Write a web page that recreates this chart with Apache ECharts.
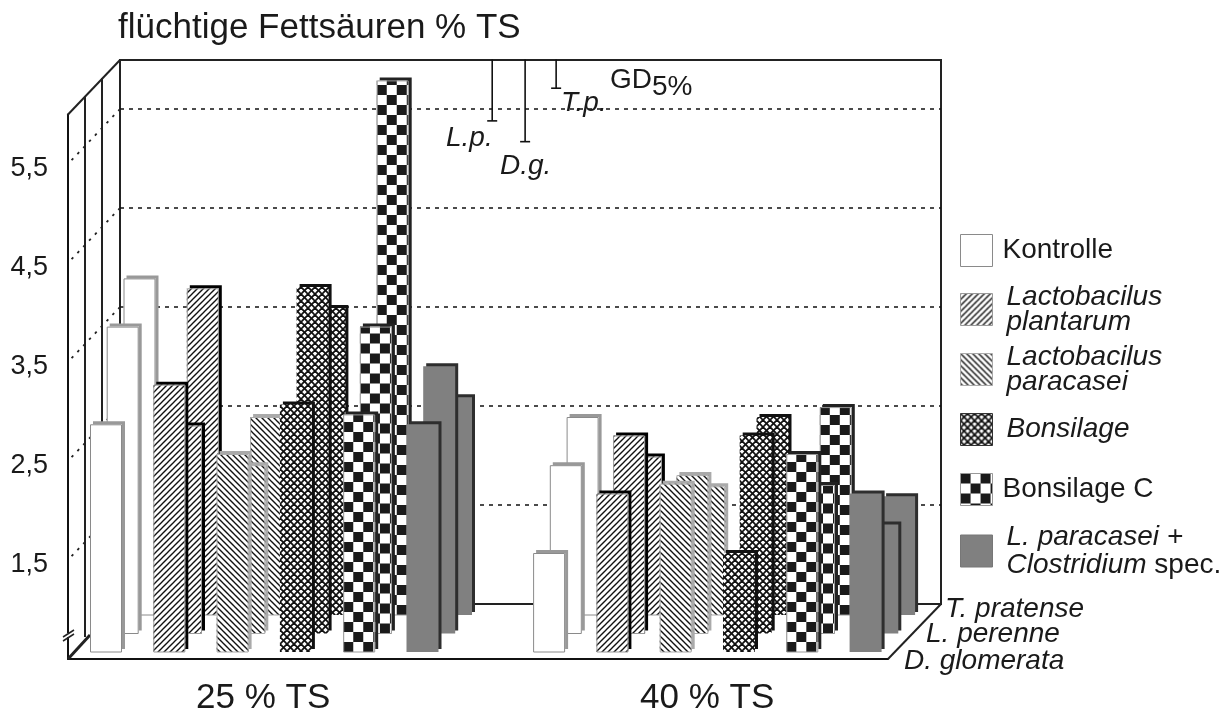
<!DOCTYPE html>
<html><head><meta charset="utf-8">
<style>html,body{margin:0;padding:0;background:#fff}#c{width:1230px;height:713px}</style>
<script src="https://cdn.jsdelivr.net/npm/echarts@6/dist/echarts.min.js"></script>
</head><body><div id="c"></div>
<script>
// ---- data -------------------------------------------------------------
const slots = ['25-K','25-Lp','25-Lc','25-B','25-BC','25-LC','','40-K','40-Lp','40-Lc','40-B','40-BC','40-LC'];
const treatments = ['Kontrolle','Lactobacilus plantarum','Lactobacilus paracasei','Bonsilage','Bonsilage C','L. paracasei + Clostridium spec.'];
// six treatments at 25 % TS, then six at 40 % TS
const dGlomerata = [2.8,3.2,2.5,3.0,2.9,2.8, 1.5,2.1,2.2,1.5,2.5,2.1];
const lPerenne   = [3.6,2.6,2.2,4.0,3.6,3.2, 2.2,2.5,2.1,2.5,2.0,1.6];
const tPratense  = [3.9,3.8,2.5,3.6,5.9,2.7, 2.5,2.1,1.8,2.5,2.6,1.7];
const yTicks = [1.5,2.5,3.5,4.5,5.5];
const gdValues = [0.62,0.83,0.29];
const gdNames = ['L.p.','D.g.','T.p.'];
const speciesNames = ['T. pratense','L. perenne','D. glomerata'];
const groupNames = ['25 % TS','40 % TS'];

// ---- geometry ----------------------------------------------------------
const FONT='"Liberation Sans", Arial, sans-serif';
const PX=99, Y_MIN=.5, Y_MAX=6, H=(Y_MAX-Y_MIN)*PX, PITCH=63.3, W=PITCH*13;
const FL=68, FB=659, FR=888, BL=120, BB=604, BR=941, BT=60;
const DX=BL-FL, DY=FB-BB;
const layers=[ // back to front
  {vals:tPratense,  left:107.85, bottom:615,   z:3},
  {vals:lPerenne,   left:91.05,  bottom:633.5, z:4},
  {vals:dGlomerata, left:74.35,  bottom:652,   z:5}];
const gdSlots=[5.88,6.40,6.89];

function tile(n,draw,bg){
  const c=document.createElement('canvas');c.width=c.height=n;
  const g=c.getContext('2d');g.fillStyle=bg||'#fff';g.fillRect(0,0,n,n);draw(g,n);
  return {image:c,repeat:'repeat'};
}
function seg(g,x0,y0,x1,y1){g.beginPath();g.moveTo(x0,y0);g.lineTo(x1,y1);g.stroke();}
const slash=(n,w)=>tile(n,(g)=>{g.strokeStyle='#111';g.lineWidth=w;seg(g,-1,1,1,-1);seg(g,0,n,n,0);seg(g,n-1,n+1,n+1,n-1);});
const back=(n,w)=>tile(n,(g)=>{g.strokeStyle='#111';g.lineWidth=w;seg(g,-1,n-1,1,n+1);seg(g,0,0,n,n);seg(g,n-1,-1,n+1,1);});
const cross=tile(7,(g,n)=>{g.strokeStyle='#111';g.lineWidth=1.8;seg(g,-1,-1,n+1,n+1);seg(g,-1,n+1,n+1,-1);});
const check=tile(20,(g)=>{g.fillStyle='#1a1a1a';g.fillRect(0,0,10,10);g.fillRect(10,10,10,10);});
const looks=[
  {fill:'#fff',      border:'#8a8a8a',shadow:'#999',outline:true},
  {fill:slash(6,1.35),border:'#999',  shadow:'#000',outline:true},
  {fill:back(6,1.35),border:'#aaa',   shadow:'#aaa',outline:true},
  {fill:cross,       border:'#333',   shadow:'#111'},
  {fill:check,       border:'#999',   shadow:'#222',outline:true},
  {fill:'#808080',   border:'#777',   shadow:'#2e2e2e'}];

const grids=[
  {left:FL,width:FR-FL,top:FB-H,height:H},
  {left:BL,width:W,top:BB-H,height:H}];
const xAxes=[
  {gridIndex:0,type:'category',data:slots,axisLabel:{show:false},axisTick:{show:false},splitLine:{show:false},
   axisLine:{lineStyle:{color:'#111',width:2}}},
  {gridIndex:1,type:'value',min:0,max:13,show:false,splitLine:{show:false}}];
const yAxes=[
  {gridIndex:0,type:'value',min:Y_MIN,max:Y_MAX,interval:.5,splitLine:{show:false},axisTick:{show:false},
   axisLine:{show:true,lineStyle:{color:'#111',width:2}},
   axisLabel:{margin:20,color:'#1a1a1a',
     formatter:v=>yTicks.includes(v)?'{a|'+v.toFixed(1).replace('.',',')+'}':'',
     rich:{a:{fontFamily:FONT,fontSize:27,color:'#1a1a1a',padding:[10,0,0,0]}}}},
  {gridIndex:1,type:'value',min:Y_MIN,max:Y_MAX,show:false,splitLine:{show:false}}];
const series=[];
series.push({type:'custom',name:'grid',xAxisIndex:1,yAxisIndex:1,z:2,silent:true,clip:false,
  data:yTicks.map(v=>[v]),
  encode:{x:[],y:0},
  renderItem:(p,api)=>{
    const a=api.coord([0,api.value(0)]);
    return {type:'group',children:[
      {type:'line',shape:{x1:a[0],y1:a[1],x2:BR,y2:a[1]},style:{stroke:'#111',lineWidth:1.6,lineDash:[4,5],fill:null}},
      {type:'line',shape:{x1:a[0],y1:a[1],x2:a[0]-DX,y2:a[1]+DY},style:{stroke:'#222',lineWidth:1.8,lineDash:[2.5,6],fill:null}}
    ]};
  }});
series.push({type:'custom',name:'GD5%',xAxisIndex:1,yAxisIndex:1,z:2,silent:true,clip:false,
  data:gdValues.map((v,i)=>[gdSlots[i],Y_MAX,Y_MAX-v]),
  encode:{x:0,y:[1,2]},
  renderItem:(p,api)=>{
    const a=api.coord([api.value(0),api.value(1)]),b=api.coord([api.value(0),api.value(2)]);
    return {type:'group',children:[
      {type:'line',shape:{x1:a[0],y1:a[1],x2:b[0],y2:b[1]},style:{stroke:'#111',lineWidth:1.6}},
      {type:'line',shape:{x1:b[0]-5,y1:b[1],x2:b[0]+5,y2:b[1]},style:{stroke:'#111',lineWidth:1.6}}
    ]};
  }});
layers.forEach(l=>{
  const gi=grids.length;
  grids.push({left:l.left,width:W,top:l.bottom-H,height:H});
  xAxes.push({gridIndex:gi,type:'category',data:slots,show:false});
  yAxes.push({gridIndex:gi,type:'value',min:Y_MIN,max:Y_MAX,show:false,splitLine:{show:false}});
  treatments.forEach((name,j)=>{
    const d=new Array(13).fill(null), e=new Array(13).fill(null), s=looks[j];
    const put=(slot,v)=>{
      const barLeft=l.left+slot*PITCH+PITCH/2-16;
      d[slot]=j===4?{value:v,itemStyle:{color:{image:check.image,repeat:'repeat',x:barLeft,y:l.bottom-10}}}:v;
      e[slot]=v;
    };
    put(j,l.vals[j]);put(7+j,l.vals[6+j]);
    series.push({type:'bar',name,xAxisIndex:gi,yAxisIndex:gi,data:d,barWidth:32,barGap:'-100%',z:l.z,silent:true,
      itemStyle:{color:s.fill,borderWidth:0,shadowColor:s.shadow,shadowBlur:0,shadowOffsetX:3,shadowOffsetY:-3}});
    if(s.outline) series.push({type:'bar',name,xAxisIndex:gi,yAxisIndex:gi,data:e,barWidth:32,barGap:'-100%',z:l.z,silent:true,
      itemStyle:{color:'rgba(255,255,255,0)',borderColor:s.border,borderWidth:1}});
  });
});
const legTop=[234,294,354,413,473,533];
const legShift=[0,11,11,0,0,10];
const legText=[
  '{n|Kontrolle}',
  '{i|Lactobacilus}\n{i|plantarum}',
  '{i|Lactobacilus}\n{i|paracasei}',
  '{i|Bonsilage}',
  '{n|Bonsilage C}',
  '{w|L. paracasei +}\n{w|Clostridium}{s| spec.}'];
const legends=treatments.map((name,j)=>({
  data:[name],left:960,top:legTop[j]-legShift[j],padding:0,orient:'vertical',selectedMode:false,
  itemWidth:32,itemHeight:32,icon:'rect',
  itemStyle:{borderColor:looks[j].border,borderWidth:1,shadowColor:'transparent',shadowOffsetX:0,shadowOffsetY:0},
  formatter:()=>legText[j],
  textStyle:{fontFamily:FONT,fontSize:28,color:'#1a1a1a',lineHeight:25,rich:{
    n:{fontFamily:FONT,fontSize:28,lineHeight:25,padding:[0,0,0,5],color:'#1a1a1a'},
    i:{fontFamily:FONT,fontSize:28,fontStyle:'italic',lineHeight:25,padding:[0,0,0,9],color:'#1a1a1a'},
    w:{fontFamily:FONT,fontSize:28,fontStyle:'italic',lineHeight:28,padding:[0,0,0,9],color:'#1a1a1a'},
    s:{fontFamily:FONT,fontSize:28,lineHeight:28,color:'#1a1a1a'}}}
}));
const ln=(pts,w)=>({type:'polyline',z:1,silent:true,shape:{points:pts},style:{stroke:'#222',lineWidth:w||2,fill:null}});
const tx=(t,x,y,o)=>({type:'text',z:20,silent:true,style:Object.assign({text:t,x,y,fontFamily:FONT,fontSize:28,fill:'#1a1a1a',textVerticalAlign:'middle',verticalAlign:'middle'},o||{})});
const it={fontStyle:'italic'};
const graphics=[
  ln([[BL,BB],[BL,BT],[BR,BT],[BR,BB],[BL,BB]]),
  ln([[FL,FB-H],[BL,BT]]),
  ln([[85,96],[85,637]]),ln([[102,78],[102,622]]),
  ln([[FR,FB],[BR,BB]]),
  ln([[FL,FB],[90,635]],3),
  {type:'rect',z:3,silent:true,shape:{x:62,y:633,width:14,height:4},style:{fill:'#fff'}},
  Object.assign(ln([[63,641],[74,634]],1.5),{z:4}),Object.assign(ln([[63,637],[74,630]],1.5),{z:4}),
  tx(groupNames[0],196,698,{fontSize:35}),tx(groupNames[1],640,698,{fontSize:35}),
  tx(speciesNames[0],945,609,it),tx(speciesNames[1],926,634,it),tx(speciesNames[2],904,661,it),
  tx(gdNames[0],446,138,it),tx(gdNames[1],500,166,it),tx(gdNames[2],561,103,it),
  tx('GD',610,80),tx('5%',652,87)
];
const chart=echarts.init(document.getElementById('c'),null,{renderer:'canvas'});
chart.setOption({
  animation:false,backgroundColor:'#fff',
  title:{text:'flüchtige Fettsäuren % TS',left:118,top:11,padding:0,textStyle:{fontFamily:FONT,fontSize:35,fontWeight:'normal',color:'#1a1a1a'}},
  grid:grids,xAxis:xAxes,yAxis:yAxes,series,legend:legends,graphic:{elements:graphics},tooltip:{show:false}
});
</script></body></html>
